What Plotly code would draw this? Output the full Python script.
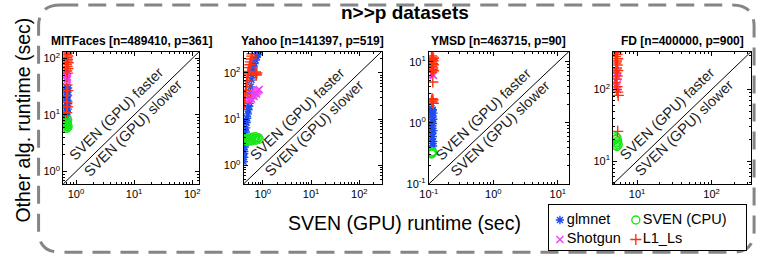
import math
import plotly.graph_objects as go

W, H = 761, 263

# ---------------- data ----------------
panel_titles = ["MITFaces [n=489410, p=361]", "Yahoo [n=141397, p=519]",
                "YMSD [n=463715, p=90]", "FD [n=400000, p=900]"]
series_names = ["glmnet", "SVEN (CPU)", "Shotgun", "L1_Ls"]

# MITFaces
mit_glmnet_x = [0.68, 0.70, 0.67, 0.71, 0.69, 0.72, 0.68, 0.70, 0.73, 0.69, 0.71, 0.67, 0.70, 0.72, 0.68, 0.71, 0.69, 0.70, 0.73, 0.68]
mit_glmnet_y = [8.6, 9.4, 10.2, 11.0, 11.8, 12.7, 13.5, 14.6, 15.8, 16.9, 18.2, 19.5, 21.0, 22.4, 24.0, 25.5, 27.0, 28.5, 30.0, 31.5]
mit_cpu_x = [0.69, 0.71, 0.70, 0.72, 0.68, 0.70, 0.73, 0.71, 0.69, 0.72]
mit_cpu_y = [5.8, 6.1, 6.4, 6.7, 7.0, 7.3, 6.2, 6.9, 7.6, 8.2]
mit_shot_x = [0.69, 0.71, 0.70, 0.72, 0.68, 0.70, 0.71, 0.69]
mit_shot_y = [41, 43, 45, 47, 50, 53, 56, 60]
mit_l1_x = [0.70, 0.68, 0.72, 0.69, 0.71, 0.70, 0.73, 0.68, 0.70, 0.72, 0.69, 0.71, 0.70, 0.72, 0.69, 0.70, 0.71, 0.69]
mit_l1_y = [125, 118, 110, 103, 96, 90, 84, 78, 72, 66, 60, 55, 34, 27, 22, 17, 14, 11]

# Yahoo
yah_glmnet_x = [0.80, 0.78, 0.75, 0.70, 0.67, 0.64, 0.62, 0.60, 0.58, 0.56, 0.55, 0.54, 0.53, 0.52, 0.50, 0.49, 0.47, 0.46, 0.45, 0.44, 0.43, 0.42, 0.42, 0.41, 0.41, 0.41, 0.40]
yah_glmnet_y = [275, 250, 220, 190, 160, 135, 110, 89, 70, 50, 38, 28, 22, 19, 16, 13, 10.5, 8.5, 6.5, 5.3, 4.0, 3.0, 2.5, 2.0, 1.8, 1.5, 1.2]
yah_cpu_x = [0.41, 0.43, 0.45, 0.47, 0.50, 0.53, 0.56, 0.60, 0.64, 0.68, 0.72, 0.76, 0.80, 0.84, 0.48, 0.58, 0.70]
yah_cpu_y = [3.6, 3.9, 3.5, 4.0, 3.7, 3.4, 3.8, 4.1, 3.6, 3.9, 3.5, 3.8, 4.0, 3.7, 3.3, 3.4, 4.2]
yah_shot_x = [0.47, 0.50, 0.53, 0.56, 0.60, 0.64, 0.68, 0.72, 0.76, 0.80, 0.84, 0.58, 0.66, 0.74]
yah_shot_y = [24, 26, 28, 30, 32, 34, 36, 38, 40, 42, 44, 27, 31, 35]
yah_l1_x = [0.42, 0.43, 0.43, 0.44, 0.45, 0.46, 0.47, 0.48, 0.49, 0.50, 0.52, 0.54, 0.55, 0.57, 0.59, 0.60, 0.72, 0.75, 0.70, 0.73]
yah_l1_y = [22, 30, 35, 42, 50, 58, 67, 80, 95, 107, 130, 150, 173, 200, 230, 260, 95, 100, 105, 90]

# YMSD
ymsd_glmnet_x = [0.110, 0.115, 0.112, 0.118, 0.110, 0.114, 0.117, 0.111, 0.116, 0.113, 0.110, 0.118, 0.112, 0.115, 0.111, 0.117, 0.113, 0.116]
ymsd_glmnet_y = [1.74, 1.65, 1.55, 1.45, 1.35, 1.25, 1.15, 1.05, 0.98, 0.90, 0.82, 0.75, 0.66, 0.60, 0.55, 0.50, 0.46, 0.42]
ymsd_cpu_x = [0.110, 0.112, 0.115, 0.113]
ymsd_cpu_y = [0.31, 0.32, 0.33, 0.34]
ymsd_shot_x = [0.110, 0.115, 0.118]
ymsd_shot_y = [6.5, 6.2, 6.0]
ymsd_l1_x = [0.110, 0.115, 0.118, 0.112, 0.116, 0.110, 0.114, 0.117, 0.111, 0.115, 0.113, 0.118, 0.110, 0.115, 0.112, 0.116, 0.110, 0.114, 0.117]
ymsd_l1_y = [12.6, 12.0, 11.5, 11.0, 10.5, 10.0, 9.5, 9.0, 8.5, 8.0, 7.6, 7.2, 6.8, 4.7, 2.5, 2.4, 2.3, 2.2, 2.1]

# FD
fd_cpu_x = [5.2, 5.4, 5.1, 5.5, 5.3, 5.6, 5.2, 5.4]
fd_cpu_y = [22, 21, 20, 19, 18, 17, 16.5, 16]
fd_shot_x = [5.2, 5.4, 5.3, 5.5, 5.2, 5.4, 5.3, 5.5]
fd_shot_y = [186, 175, 165, 150, 130, 118, 108, 100]
fd_l1_x = [5.2, 5.4, 5.1, 5.5, 5.3, 5.2, 5.4, 5.3, 5.5, 5.2, 5.4, 5.3, 5.1, 5.4, 5.3, 5.5, 5.6, 5.5]
fd_l1_y = [330, 310, 290, 270, 250, 235, 220, 200, 185, 170, 155, 140, 125, 110, 100, 92, 83, 26]

panels = [
    {"glmnet": (mit_glmnet_x, mit_glmnet_y), "SVEN (CPU)": (mit_cpu_x, mit_cpu_y),
     "Shotgun": (mit_shot_x, mit_shot_y), "L1_Ls": (mit_l1_x, mit_l1_y)},
    {"glmnet": (yah_glmnet_x, yah_glmnet_y), "SVEN (CPU)": (yah_cpu_x, yah_cpu_y),
     "Shotgun": (yah_shot_x, yah_shot_y), "L1_Ls": (yah_l1_x, yah_l1_y)},
    {"glmnet": (ymsd_glmnet_x, ymsd_glmnet_y), "SVEN (CPU)": (ymsd_cpu_x, ymsd_cpu_y),
     "Shotgun": (ymsd_shot_x, ymsd_shot_y), "L1_Ls": (ymsd_l1_x, ymsd_l1_y)},
    {"SVEN (CPU)": (fd_cpu_x, fd_cpu_y),
     "Shotgun": (fd_shot_x, fd_shot_y), "L1_Ls": (fd_l1_x, fd_l1_y)},
]

tick_vals = [[1, 10, 100], [1, 10, 100], [0.1, 1, 10], [10, 100]]
tick_text = [["10<sup>0</sup>", "10<sup>1</sup>", "10<sup>2</sup>"],
             ["10<sup>0</sup>", "10<sup>1</sup>", "10<sup>2</sup>"],
             ["10<sup>-1</sup>", "10<sup>0</sup>", "10<sup>1</sup>"],
             ["10<sup>1</sup>", "10<sup>2</sup>"]]

# ---------------- style / layout ----------------
FONT = "Liberation Sans, Arial, Helvetica, sans-serif"
styles = {
    "glmnet": dict(symbol="asterisk-open", color="#1f4cf0", size=7),
    "SVEN (CPU)": dict(symbol="circle-open", color="#19e619", size=8),
    "Shotgun": dict(symbol="x-thin-open", color="#f040f0", size=7),
    "L1_Ls": dict(symbol="cross-thin-open", color="#ff3010", size=8),
}
MLW = 1.4

# pixel layout of plot areas
px_x = [(54, 192), (237, 377), (425, 567), (612, 752)]
px_y = (52, 188)
log_ranges = [(-0.22, 2.12), (-0.40, 2.46), (-1.0, 1.17), (0.68, 2.53)]

# legend layout (pixel positions inside the legend box)
leg_box = (547, 747, 210, 256)
leg_marker_pos = {"glmnet": (558, 225), "Shotgun": (558, 245),
                  "SVEN (CPU)": (635, 225), "L1_Ls": (635, 245)}
leg_text_gap = 7

fig = go.Figure()

for i, pdata in enumerate(panels):
    k = "" if i == 0 else str(i + 1)
    for name in series_names:
        if name not in pdata:
            continue
        xs, ys = pdata[name]
        st = styles[name]
        fig.add_trace(go.Scatter(
            x=xs, y=ys, mode="markers", name=name,
            xaxis="x" + k, yaxis="y" + k, showlegend=False,
            marker=dict(symbol=st["symbol"], size=st["size"], color=st["color"],
                        line=dict(width=MLW, color=st["color"])),
        ))

# custom legend (own axis in pixel units)
for name in series_names:
    st = styles[name]
    mx, my = leg_marker_pos[name]
    fig.add_trace(go.Scatter(
        x=[mx], y=[my], mode="markers", xaxis="x5", yaxis="y5", showlegend=False,
        hoverinfo="skip",
        marker=dict(symbol=st["symbol"], size=st["size"], color=st["color"],
                    line=dict(width=MLW, color=st["color"])),
    ))
    fig.add_trace(go.Scatter(
        x=[mx + leg_text_gap], y=[my], mode="text", text=[name], textposition="middle right",
        xaxis="x5", yaxis="y5", showlegend=False, hoverinfo="skip",
        textfont=dict(size=14.5, family=FONT, color="black"),
    ))

layout = dict(
    width=W, height=H,
    margin=dict(l=0, r=0, t=0, b=0),
    paper_bgcolor="white", plot_bgcolor="white",
    font=dict(family=FONT, color="black", size=11),
    shapes=[], annotations=[],
)

for i in range(4):
    k = "" if i == 0 else str(i + 1)
    x0, x1 = px_x[i]
    lo, hi = log_ranges[i]
    minor_vals = [m * 10 ** d for d in range(-2, 4) for m in range(2, 10)
                  if lo <= math.log10(m * 10 ** d) <= hi]
    common = dict(type="log", range=[lo, hi], showgrid=False, zeroline=False,
                  showline=True, linecolor="black", linewidth=1, mirror="ticks",
                  ticks="inside", ticklen=4, tickcolor="black",
                  tickmode="array", tickvals=tick_vals[i], ticktext=tick_text[i],
                  tickfont=dict(size=11, family=FONT, color="black"),
                  minor=dict(tickmode="array", tickvals=minor_vals, ticks="inside",
                             ticklen=2, tickcolor="black", showgrid=False))
    layout["xaxis" + k] = dict(domain=[x0 / W, x1 / W], anchor="y" + k, **common)
    layout["yaxis" + k] = dict(domain=[1 - px_y[1] / H, 1 - px_y[0] / H], anchor="x" + k, **common)

    xr = "x" + k + " domain"
    yr = "y" + k + " domain"
    layout["shapes"].append(dict(type="line", xref=xr, yref=yr, x0=0, y0=0, x1=1, y1=1,
                                 line=dict(color="black", width=1)))
    ang = math.degrees(math.atan2(px_y[1] - px_y[0], x1 - x0))
    layout["annotations"].append(dict(text="SVEN (GPU) faster", xref=xr, yref=yr, x=0.5, y=0.5,
                                      xanchor="center", yanchor="middle", showarrow=False,
                                      textangle=-ang, xshift=-15, yshift=3.5,
                                      font=dict(size=14.5, family=FONT, color="#222")))
    layout["annotations"].append(dict(text="SVEN (GPU) slower", xref=xr, yref=yr, x=0.5, y=0.5,
                                      xanchor="center", yanchor="middle", showarrow=False,
                                      textangle=-ang, xshift=2, yshift=-10.5,
                                      font=dict(size=14.5, family=FONT, color="#222")))
    layout["annotations"].append(dict(text="<b>" + panel_titles[i] + "</b>", xref="paper", yref="paper",
                                      x=(x0 + x1) / 2 / W, y=1 - 41 / H, xanchor="center", yanchor="middle",
                                      showarrow=False, font=dict(size=12, family=FONT, color="black")))

# legend axis
bx0, bx1, by0, by1 = leg_box
layout["xaxis5"] = dict(domain=[bx0 / W, bx1 / W], range=[bx0, bx1], anchor="y5",
                        showgrid=False, zeroline=False, showticklabels=False, ticks="",
                        showline=True, mirror=True, linecolor="black", linewidth=1, fixedrange=True)
layout["yaxis5"] = dict(domain=[1 - by1 / H, 1 - by0 / H], range=[by1, by0], anchor="x5",
                        showgrid=False, zeroline=False, showticklabels=False, ticks="",
                        showline=True, mirror=True, linecolor="black", linewidth=1, fixedrange=True)

# global texts
layout["annotations"].append(dict(text="<b>n>>p datasets</b>", xref="paper", yref="paper",
                                  x=401 / W, y=1 - 12 / H, xanchor="center", yanchor="middle",
                                  showarrow=False, font=dict(size=19, family=FONT, color="black")))
layout["annotations"].append(dict(text="SVEN (GPU) runtime (sec)", xref="paper", yref="paper",
                                  x=400 / W, y=1 - 228 / H, xanchor="center", yanchor="middle",
                                  showarrow=False, font=dict(size=19.5, family=FONT, color="black")))
layout["annotations"].append(dict(text="Other alg. runtime (sec)", xref="paper", yref="paper",
                                  x=13 / W, y=1 - 122 / H, xanchor="center", yanchor="middle",
                                  textangle=-90, showarrow=False,
                                  font=dict(size=19.5, family=FONT, color="black")))

# dashed rounded border
ox0, ox1 = 29 / W, 755 / W
oy0, oy1 = 1 - 258 / H, 1 - 4 / H
rx, ry = 22 / W, 22 / H
path = (f"M {ox0+rx},{oy1} L {ox1-rx},{oy1} Q {ox1},{oy1} {ox1},{oy1-ry} "
        f"L {ox1},{oy0+ry} Q {ox1},{oy0} {ox1-rx},{oy0} L {ox0+rx},{oy0} "
        f"Q {ox0},{oy0} {ox0},{oy0+ry} L {ox0},{oy1-ry} Q {ox0},{oy1} {ox0+rx},{oy1} Z")
layout["shapes"].append(dict(type="path", xref="paper", yref="paper", path=path,
                             line=dict(color="#858585", width=3, dash="18px,10px"), layer="below"))
# white fill behind legend so the border passes under it cleanly
layout["shapes"].append(dict(type="rect", xref="paper", yref="paper",
                             x0=bx0 / W, x1=bx1 / W, y0=1 - by1 / H, y1=1 - by0 / H,
                             line=dict(width=0), fillcolor="white", layer="below"))

fig.update_layout(**layout)
fig.write_html("out.html", config={"displayModeBar": False},
               post_script="document.body.style.margin='0';document.body.style.overflow='hidden';")
